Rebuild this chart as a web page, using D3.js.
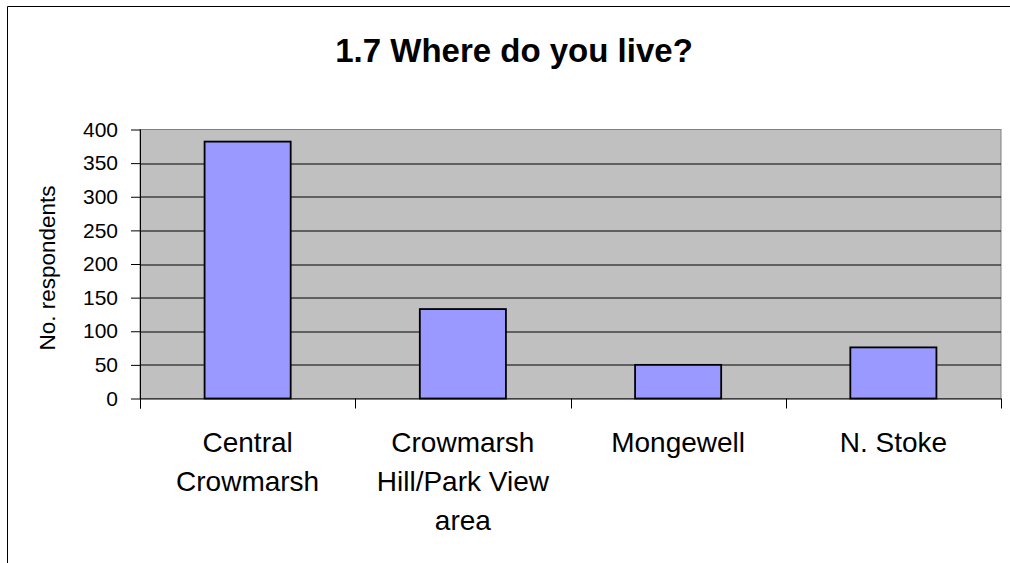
<!DOCTYPE html>
<html>
  <head>
    <meta charset="utf-8">
    <script src="https://d3js.org/d3.v7.min.js"></script>
    <style>
      body { margin: 0px; background: #fff; }
      text { font-family: "Liberation Sans", Arial, sans-serif; }
    </style>
  </head>
  <body>
    <svg width="1010" height="563"></svg>
    <script>
      const categories = [['Central', 'Crowmarsh'], ['Crowmarsh', 'Hill/Park View', 'area'], ['Mongewell'], ['N. Stoke']];
      const values = [382, 133, 50, 76];
      const yTicks = [0, 50, 100, 150, 200, 250, 300, 350, 400];

      const svg = d3.select('svg');
      const margin = { left: 140, right: 9, top: 129.5, bottom: 164.5 };
      const width = 1010, height = 563;
      const innerWidth = width - margin.left - margin.right;
      const innerHeight = height - margin.top - margin.bottom;

      // chart frame (runs off the right and bottom edges)
      svg.append('path')
        .attr('d', 'M7.5,563V6.5H1010')
        .attr('fill', 'none').attr('stroke', '#000').attr('stroke-width', 1);

      svg.append('text')
        .attr('x', 514).attr('y', 62)
        .attr('text-anchor', 'middle')
        .attr('font-size', '33px').attr('font-weight', 'bold')
        .text('1.7 Where do you live?');

      const g = svg.append('g')
        .attr('transform', `translate(${margin.left}, ${margin.top})`);

      const xScale = d3.scaleBand()
        .domain(d3.range(values.length))
        .range([0, innerWidth])
        .paddingInner(0.6).paddingOuter(0.3);
      const bandX = d3.scaleLinear().domain([0, values.length]).range([0, innerWidth]);
      const yScale = d3.scaleLinear().domain([0, 400]).range([innerHeight, 0]);

      g.append('rect')
        .attr('width', innerWidth).attr('height', innerHeight)
        .attr('fill', '#c0c0c0').attr('stroke', '#808080');

      g.selectAll('.grid').data(yTicks.filter(d => d > 0 && d < 400))
        .enter().append('line')
          .attr('x1', 0).attr('x2', innerWidth)
          .attr('y1', d => Math.round(yScale(d)) + 0.5)
          .attr('y2', d => Math.round(yScale(d)) + 0.5)
          .attr('stroke', '#000');

      g.selectAll('.bar').data(values)
        .enter().append('rect')
          .attr('x', (d, i) => xScale(i))
          .attr('y', d => yScale(d))
          .attr('width', xScale.bandwidth())
          .attr('height', d => innerHeight - yScale(d))
          .attr('fill', '#9999ff')
          .attr('stroke', '#000').attr('stroke-width', 1.8);

      // y axis
      const yAxis = d3.axisLeft(yScale).tickValues(yTicks).tickSize(9).tickPadding(13);
      const yAxisG = g.append('g').call(yAxis);
      yAxisG.select('.domain').attr('d', `M0.5,0V${innerHeight + 10}`);
      yAxisG.selectAll('text').attr('font-size', '21px').attr('font-family', '"Liberation Sans", Arial, sans-serif').attr('fill', '#000');

      // x axis ticks at category boundaries
      const xAxisG = g.append('g').attr('transform', `translate(0, ${innerHeight})`);
      xAxisG.append('line')
        .attr('x1', 0).attr('x2', innerWidth).attr('y1', 0.5).attr('y2', 0.5)
        .attr('stroke', '#000');
      xAxisG.selectAll('.tk').data(d3.range(values.length + 1))
        .enter().append('line')
          .attr('x1', d => Math.round(bandX(d)) + 0.5)
          .attr('x2', d => Math.round(bandX(d)) + 0.5)
          .attr('y1', 0).attr('y2', 10)
          .attr('stroke', '#000');

      const labels = xAxisG.selectAll('.lbl').data(categories)
        .enter().append('text')
          .attr('text-anchor', 'middle')
          .attr('font-size', '28px')
          .attr('transform', (d, i) => `translate(${xScale(i) + xScale.bandwidth() / 2}, 0)`);
      labels.selectAll('tspan').data(d => d)
        .enter().append('tspan')
          .attr('x', 0)
          .attr('y', (d, j) => 53 + j * 39)
          .text(d => d);

      svg.append('text')
        .attr('transform', 'rotate(-90)')
        .attr('x', -268)
        .attr('y', 55)
        .attr('text-anchor', 'middle')
        .attr('font-size', '22.5px')
        .text('No. respondents');
    </script>
  </body>
</html>
